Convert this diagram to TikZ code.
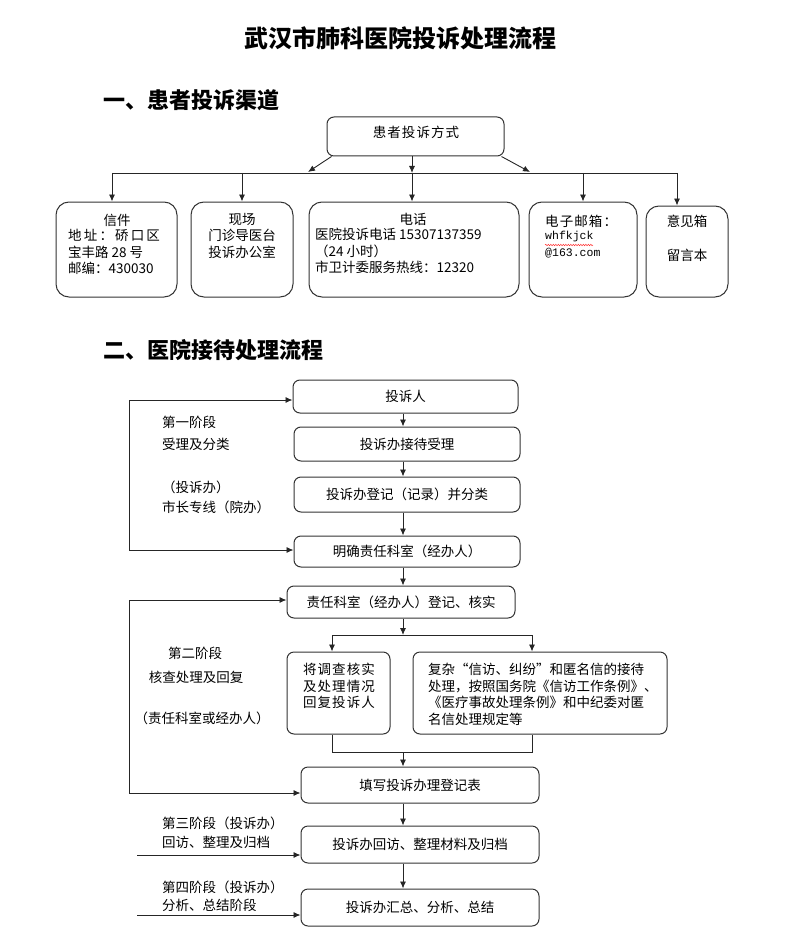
\documentclass[tikz,border=0pt]{standalone}
\usepackage{fontspec}
\setmainfont{Noto Sans CJK SC}
\newfontfamily\monofnt{Liberation Mono}
\usetikzlibrary{arrows.meta,decorations.pathmorphing}
\tikzset{
  box/.style={draw=black!80, line width=1pt, rounded corners=7pt, inner sep=0pt,
    font=\fontsize{13.5}{16.5}\selectfont},
  bigbox/.style={box, rounded corners=13pt},
  arr/.style={-{Latex[length=7pt,width=6pt]}, line width=0.9pt, draw=black!85},
  ln/.style={line width=0.9pt, draw=black!85},
  txt/.style={inner sep=0pt, font=\fontsize{13.5}{16.5}\selectfont},
  titletxt/.style={inner sep=0pt, font=\fontsize{24}{28}\selectfont\bfseries},
  headtxt/.style={inner sep=0pt, font=\fontsize{22}{26}\selectfont\bfseries},
  monotxt/.style={inner sep=0pt, font=\fontsize{11.5}{16.5}\monofnt},
}
\newcommand\mybox[7][box]{%
  \pgfmathsetmacro\bcx{(#3+#5)/2}%
  \pgfmathsetmacro\bcy{(#4+#6)/2}%
  \pgfmathsetmacro\bw{#5-#3}%
  \pgfmathsetmacro\bh{#6-#4}%
  \node[#1, minimum width=\bw pt, minimum height=\bh pt] (#2) at (\bcx,\bcy) {#7};}
\begin{document}
\begin{tikzpicture}[x=1pt,y=-1pt]
\useasboundingbox (0,0) rectangle (800,936);

% titles
\node[titletxt] (title) at (400,38) {武汉市肺科医院投诉处理流程};
\node[headtxt, anchor=west] (head1) at (103,100) {一、患者投诉渠道};
\node[headtxt, anchor=west] (head2) at (103,350) {二、医院接待处理流程};

% ---------- part 1 ----------
\mybox{top}{327}{117}{504}{156}{}
\node[txt] (toptxt) at (416,132) {\addfontfeature{LetterSpace=8}患者投诉方式};

\mybox[bigbox]{letter}{56}{202}{177}{297}{}
\mybox[bigbox]{site}{191}{202}{293}{297}{}
\mybox[bigbox]{phone}{309}{202}{519}{297}{}
\mybox[bigbox]{email}{529}{202}{637}{297}{}
\mybox[bigbox]{opinion}{646}{206}{728}{297}{}

\node[txt] (letterA) at (117,220) {信件};
\node[txt, anchor=north west, align=left] (letterB) at (68,229) {{\addfontfeature{LetterSpace=16}地址：硚口区}\\宝丰路 28 号\\邮编：430030};
\node[txt, anchor=north, align=center] (siteA) at (242,213) {现场\\门诊导医台\\投诉办公室};
\node[txt] (phoneA) at (413,219) {电话};
\node[txt, anchor=north west, align=left] (phoneB) at (315,228) {医院投诉电话 15307137359\\（24 小时）\\市卫计委服务热线：12320};
\node[txt, anchor=west] (emailA) at (545,221) {\addfontfeature{LetterSpace=8}电子邮箱：};
\node[monotxt, anchor=west] (emailB) at (545,237) {whfkjck};
\node[monotxt, anchor=west] (emailC) at (545,253) {@163.com};
\draw[red!80, line width=0.5pt, decorate, decoration={snake, amplitude=0.7pt, segment length=2.5pt}] (545,245) -- (593,245);
\node[txt] (opA) at (687,221) {意见箱};
\node[txt] (opB) at (687,255) {留言本};

\coordinate (hl) at (112,173);
\coordinate (hr) at (677,173);
\coordinate (cm) at (412,173);
\coordinate (dl) at (308,172);
\coordinate (dr) at (530,172);
\draw[ln] (hl) -- (hr);
\draw[arr] ([xshift=5pt]top.south west) -- (dl);
\draw[arr] ([xshift=-3pt]top.south east) -- (dr);
\draw[arr] (top.south -| cm) -- (cm);
\draw[arr] (hl) -- (hl |- letter.north);
\draw[arr] (site.north |- hl) -- (site.north);
\draw[arr] (cm) -- (cm |- phone.north);
\draw[arr] (email.north |- hl) -- (email.north);
\draw[arr] (hr) -- (hr |- opinion.north);

% ---------- part 2 ----------
\mybox{b1}{293}{380}{518}{413}{投诉人}
\mybox{b2}{294}{427}{520}{461}{投诉办接待受理}
\mybox{b3}{294}{477}{520}{512}{投诉办登记（记录）并分类}
\mybox{b4}{294}{536}{520}{567}{明确责任科室（经办人）}
\mybox{b5}{287}{586}{515}{618}{责任科室（经办人）登记、核实}
\mybox{bl}{287}{652}{390}{734}{}
\mybox{br}{413}{652}{667}{734}{}
\mybox{b6}{301}{767}{539}{803}{填写投诉办理登记表}
\mybox{b7}{301}{826}{539}{863}{投诉办回访、整理材料及归档}
\mybox{b8}{301}{889}{539}{926}{投诉办汇总、分析、总结}

\node[txt, anchor=north, align=left] (blt) at (339,663) {\addfontfeature{LetterSpace=8}将调查核实\\\addfontfeature{LetterSpace=8}及处理情况\\\addfontfeature{LetterSpace=8}回复投诉人};
\node[txt, anchor=north west, align=left] (brt) at (428,663) {复杂“信访、纠纷”和匿名信的接待\\处理，按照国务院《信访工作条例》、\\《医疗事故处理条例》和中纪委对匿\\名信处理规定等};

% spine
\coordinate (sp) at (403,0);
\draw[arr] (b1.south -| sp) -- (b2.north -| sp);
\draw[arr] (b2.south -| sp) -- (b3.north -| sp);
\draw[arr] (b3.south -| sp) -- (b4.north -| sp);
\draw[arr] (b4.south -| sp) -- (b5.north -| sp);
\coordinate (j) at (403,635);
\coordinate (jl) at (332,635);
\coordinate (jr) at (532,635);
\draw[arr] (b5.south -| sp) -- (j);
\draw[ln] (jl) -- (jr);
\draw[arr] (jl) -- (jl |- bl.north);
\draw[arr] (jr) -- (jr |- br.north);
\coordinate (kl) at (332,752);
\coordinate (kr) at (532,752);
\coordinate (k) at (403,752);
\draw[ln] (bl.south -| kl) -- (kl) -- (kr) -- (br.south -| kr);
\draw[arr] (k) -- (b6.north -| sp);
\draw[arr] (b6.south -| sp) -- (b7.north -| sp);
\draw[arr] (b7.south -| sp) -- (b8.north -| sp);

% loops
\coordinate (l1t) at (129,400);
\coordinate (l1b) at (129,550);
\draw[arr] (l1b) -- (l1t) -- (b1.west |- l1t);
\draw[arr] (l1b) -- (b4.west |- l1b);
\coordinate (l2t) at (129,600);
\coordinate (l2b) at (129,793);
\draw[arr] (l2b) -- (l2t) -- (b5.west |- l2t);
\draw[arr] (l2b) -- (b6.west |- l2b);
\coordinate (s3) at (137,855);
\coordinate (s4) at (137,915);
\draw[arr] (s3) -- (b7.west |- s3);
\draw[arr] (s4) -- (b8.west |- s4);

% side texts
\node[txt, anchor=west] (p1a) at (162,422) {第一阶段};
\node[txt, anchor=west] (p1b) at (162,444) {受理及分类};
\node[txt, anchor=west] (p1c) at (162,487) {（投诉办）};
\node[txt, anchor=west] (p1d) at (162,507) {市长专线（院办）};
\node[txt] (p2a) at (195,653) {第二阶段};
\node[txt] (p2b) at (196,677) {核查处理及回复};
\node[txt] (p2c) at (202,718) {（责任科室或经办人）};
\node[txt, anchor=west] (p3a) at (162,823) {第三阶段（投诉办）};
\node[txt, anchor=west] (p3b) at (162,842) {回访、整理及归档};
\node[txt, anchor=west] (p4a) at (162,887) {第四阶段（投诉办）};
\node[txt, anchor=west] (p4b) at (162,905) {分析、总结阶段};
\end{tikzpicture}
\end{document}
